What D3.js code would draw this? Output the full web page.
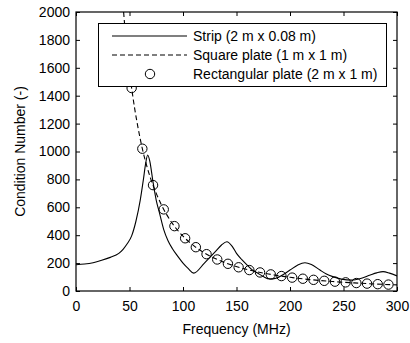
<!DOCTYPE html>
<html>
<head>
<meta charset="utf-8">
<script src="https://cdn.jsdelivr.net/npm/d3@7"></script>
<style>
  body { margin: 0; background: #fff; }
  text { font-family: "Liberation Sans", Arial, sans-serif; fill: #000; }
</style>
</head>
<body>
<div id="chart"></div>
<script>
(function(){
  "use strict";

  // strip (2 m x 0.08 m)
  const stripFreq = [0, 8, 16, 24, 32, 40, 44, 48, 52, 56, 60, 63, 65, 67, 69, 72, 75, 78, 82, 86, 90, 95, 100, 105, 110,
                     120, 130, 136, 141, 146, 150, 155, 160, 165, 170, 175, 181, 187, 193, 200, 207, 214, 220, 228, 234, 240,
                     248, 258, 266, 275, 281, 287, 293, 300];
  const stripCond = [188, 193, 203, 220, 241, 270, 299, 340, 395, 500, 650, 800, 910, 975, 930, 780, 650, 560, 440, 360, 305, 250, 200, 160, 128,
                     200, 280, 330, 353, 320, 270, 225, 186, 150, 127, 104, 86, 92, 115, 150, 185, 203, 190, 150, 122, 103,
                     85, 78, 90, 115, 130, 139, 128, 108];

  // square plate (1 m x 1 m)
  const squareFreq = [44.5, 46, 48, 50, 52, 55, 58, 62, 66, 70, 75, 80, 90, 100, 110, 120, 140, 160, 180, 200, 220, 240, 260, 280, 300];
  const squareCond = [2000, 1860, 1710, 1570, 1455, 1300, 1170, 1020, 900, 800, 700, 615, 485, 393, 325, 273, 201, 154, 122, 98, 81, 68, 58, 50, 44];

  // rectangular plate (2 m x 1 m), circle markers
  const rectFreq = [52, 62, 72, 82, 92, 102, 112, 122, 132, 142, 152, 162, 172, 182, 192, 202, 212, 222, 232, 242, 252, 262, 272, 282, 292];
  const rectCond = [1455, 1020, 759, 585, 465, 378, 314, 264, 226, 195, 170, 150, 133, 119, 107, 96, 88, 80, 73, 67, 62, 57, 53, 49, 46];

  const xTicks = [0, 50, 100, 150, 200, 250, 300];
  const yTicks = [0, 200, 400, 600, 800, 1000, 1200, 1400, 1600, 1800, 2000];

  const legendLabels = ["Strip (2 m x 0.08 m)", "Square plate (1 m x 1 m)", "Rectangular plate (2 m x 1 m)"];

  const W = 410, H = 343;
  const m = {left: 76, right: 13, top: 12, bottom: 52};
  const iw = W - m.left - m.right, ih = H - m.top - m.bottom;
  const fs = "14px";

  const svg = d3.select("#chart").append("svg")
    .attr("width", W).attr("height", H);

  const g = svg.append("g").attr("transform", `translate(${m.left},${m.top})`);

  const x = d3.scaleLinear().domain([0, 300]).range([0, iw]);
  const y = d3.scaleLinear().domain([0, 2000]).range([ih, 0]);

  // clip so lines stop at the frame
  svg.append("defs").append("clipPath").attr("id", "clip")
    .append("rect").attr("width", iw).attr("height", ih);

  // axes, ticks point inward
  function styleAxis(sel){
    sel.select(".domain").remove();
    sel.selectAll("line").attr("stroke", "#000");
    sel.selectAll("text").style("font-size", fs);
  }
  g.append("g").attr("transform", `translate(0,${ih})`)
    .call(d3.axisBottom(x).tickValues(xTicks).tickSize(-4).tickPadding(10).tickFormat(d3.format("d")))
    .call(styleAxis);
  g.append("g")
    .call(d3.axisLeft(y).tickValues(yTicks).tickSize(-4).tickPadding(6).tickFormat(d3.format("d")))
    .call(styleAxis);
  g.append("g")
    .call(d3.axisTop(x).tickValues(xTicks).tickSize(-4).tickFormat(""))
    .call(styleAxis);
  g.append("g").attr("transform", `translate(${iw},0)`)
    .call(d3.axisRight(y).tickValues(yTicks).tickSize(-4).tickFormat(""))
    .call(styleAxis);

  g.append("rect").attr("width", iw).attr("height", ih)
    .attr("fill", "none").attr("stroke", "#000").attr("stroke-width", 1.2);

  const line = d3.line().x(d => x(d[0])).y(d => y(d[1])).curve(d3.curveMonotoneX);
  const plot = g.append("g").attr("clip-path", "url(#clip)");

  plot.append("path")
    .datum(d3.zip(stripFreq, stripCond))
    .attr("d", line).attr("fill", "none").attr("stroke", "#000").attr("stroke-width", 1.1);

  plot.append("path")
    .datum(d3.zip(squareFreq, squareCond))
    .attr("d", line).attr("fill", "none").attr("stroke", "#000")
    .attr("stroke-width", 1.1).attr("stroke-dasharray", "5,3");

  plot.selectAll("circle.rect")
    .data(d3.zip(rectFreq, rectCond))
    .enter().append("circle")
      .attr("class", "rect")
      .attr("cx", d => x(d[0]))
      .attr("cy", d => y(d[1]))
      .attr("r", 4.7)
      .attr("fill", "none").attr("stroke", "#000").attr("stroke-width", 1);

  // axis titles
  svg.append("text")
    .attr("x", m.left + iw / 2).attr("y", 334)
    .attr("text-anchor", "middle").style("font-size", fs)
    .text("Frequency (MHz)");
  svg.append("text")
    .attr("transform", `translate(25,${m.top + ih / 2}) rotate(-90)`)
    .attr("text-anchor", "middle").style("font-size", fs)
    .text("Condition Number (-)");

  // legend
  const lg = svg.append("g");
  lg.append("rect").attr("x", 98.5).attr("y", 23.5).attr("width", 288).attr("height", 63)
    .attr("fill", "#fff").attr("stroke", "#000").attr("stroke-width", 1);
  const rowsY = [36, 55, 74];
  lg.append("line").attr("x1", 112).attr("x2", 187).attr("y1", rowsY[0]).attr("y2", rowsY[0])
    .attr("stroke", "#000").attr("stroke-width", 1.1);
  lg.append("line").attr("x1", 112).attr("x2", 187).attr("y1", rowsY[1]).attr("y2", rowsY[1])
    .attr("stroke", "#000").attr("stroke-width", 1.1).attr("stroke-dasharray", "5,3");
  lg.append("circle").attr("cx", 150).attr("cy", rowsY[2]).attr("r", 4.7)
    .attr("fill", "none").attr("stroke", "#000");
  lg.selectAll("text.lab")
    .data(legendLabels)
    .enter().append("text")
      .attr("class", "lab")
      .attr("x", 193).attr("y", (d, i) => rowsY[i] + 5)
      .style("font-size", fs)
      .text(d => d);
})();
</script>
</body>
</html>
